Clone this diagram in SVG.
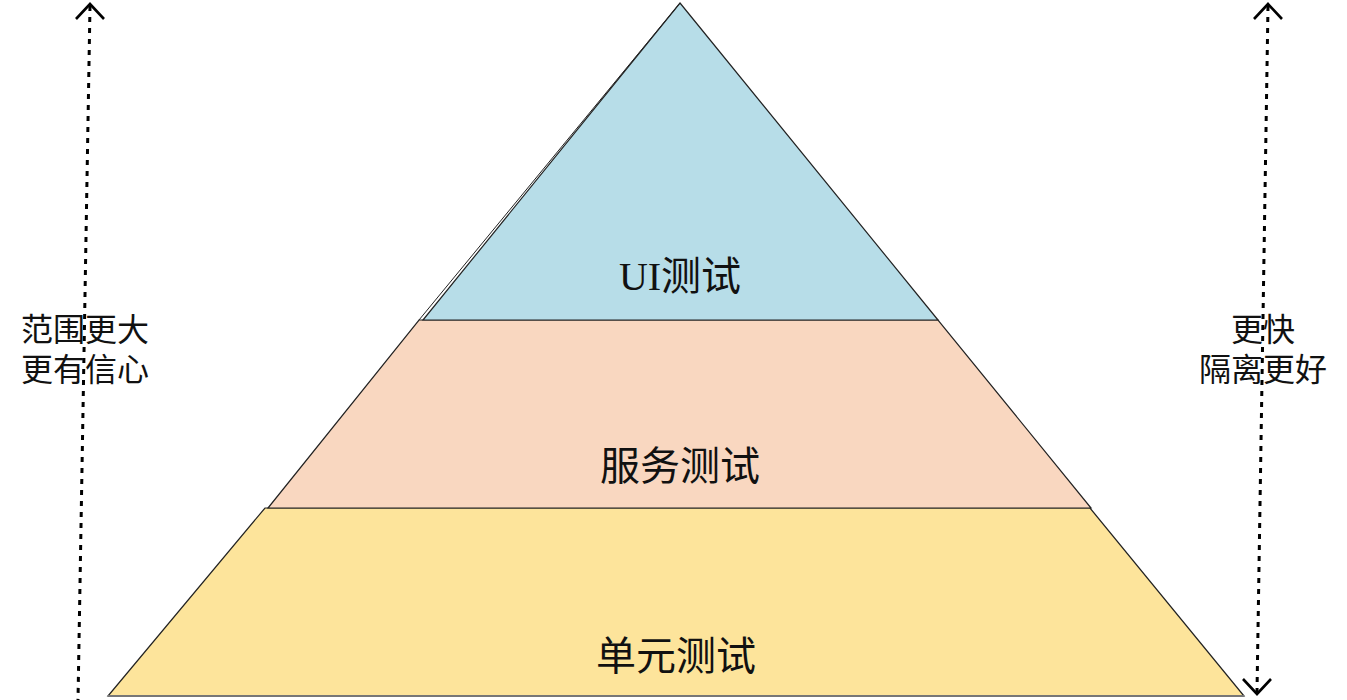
<svg xmlns="http://www.w3.org/2000/svg" width="1347" height="700" viewBox="0 0 1347 700">
<style>
.shape{stroke:#222;stroke-width:1.2;stroke-linejoin:miter}
.lbl{font-family:"Liberation Serif","Noto Sans CJK SC",serif;font-size:40px;fill:#111;text-anchor:middle}
.side{font-family:"Liberation Serif","Noto Sans CJK SC",serif;font-size:32px;fill:#111;text-anchor:middle}
.dot{stroke:#000;stroke-width:3;stroke-dasharray:5 6;fill:none}
.head{stroke:#000;stroke-width:2.6;fill:none}
</style>
<rect width="1347" height="700" fill="#fff"/>
<g id="connectors">
<line class="dot" x1="90" y1="6" x2="78" y2="700"/>
<polyline class="head" points="76,19 90,4 104,19"/>
<line class="dot" x1="1268" y1="6" x2="1257" y2="692"/>
<polyline class="head" points="1254,19 1268,4 1282,19"/>
<polyline class="head" points="1243,679 1257,694 1271,679"/>
</g>
<g id="unit">
<polygon class="shape" fill="#FDE49B" points="265,508 1090,508 1244,696 108,696"/>
<line x1="108" y1="696" x2="1244" y2="696" stroke="#777" stroke-width="2"/>
<text class="lbl" x="676" y="670">单元测试</text>
</g>
<g id="service">
<polygon class="shape" fill="#F9D7C0" points="419,320 938,320 1091,508 268,508"/>
<text class="lbl" x="680" y="480">服务测试</text>
</g>
<g id="ui">
<polygon class="shape" fill="#B7DDE8" points="680,3 938,320 423,320"/>
<line x1="680" y1="3" x2="419" y2="320" stroke="#222" stroke-width="1"/>
<text class="lbl" x="680" y="290">UI测试</text>
</g>
<g id="left-label">
<text class="side" x="85" y="341">范围更大</text>
<text class="side" x="85" y="381">更有信心</text>
</g>
<g id="right-label">
<text class="side" x="1263" y="341">更快</text>
<text class="side" x="1263" y="381">隔离更好</text>
</g>
</svg>
